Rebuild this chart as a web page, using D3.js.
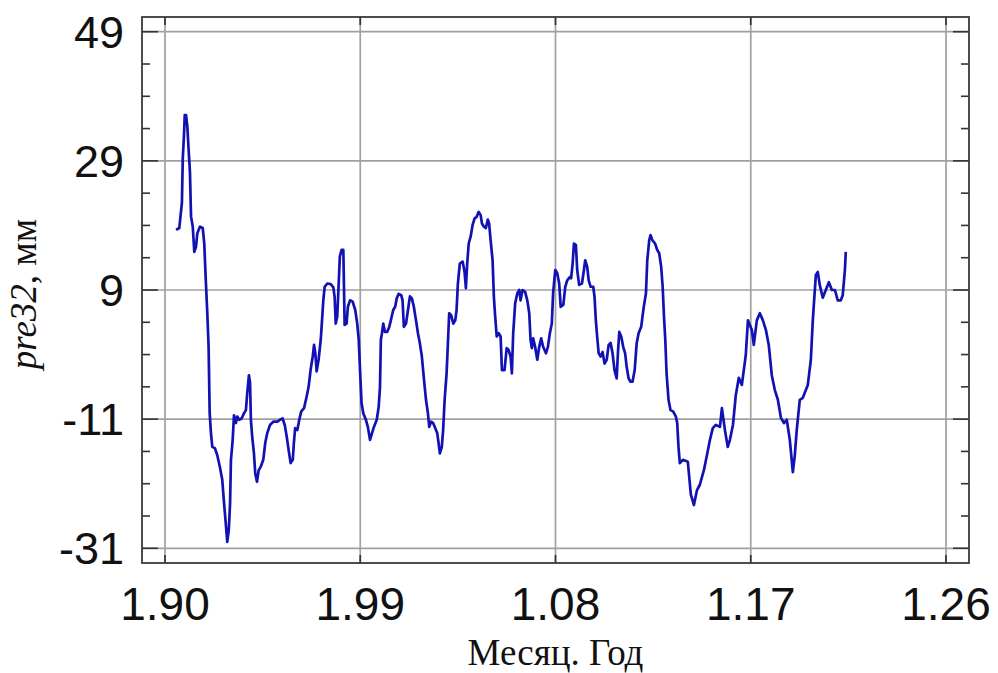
<!DOCTYPE html>
<html>
  <head>
    <meta charset="utf-8">
    <title>pre32</title>
    <script src="https://cdn.jsdelivr.net/npm/d3@7"></script>
    <style>
body { margin: 0; background: #fff; }
.tickTxt { font-family: 'Liberation Sans', Arial, sans-serif; fill: #111; }
.axTitle { font-family: 'Liberation Serif', 'Times New Roman', serif; fill: #111; }
    </style>
  </head>
  <body>
    <script>
// series (year, mm)
var years = [1990.51,1990.66,1990.72,1990.78,1990.82,1990.88,1990.91,1990.97,1991.03,1991.09,1991.15,1991.20,1991.28,1991.35,1991.43,1991.49,1991.61,1991.74,1991.81,1991.88,1991.95,1992.01,1992.06,1992.12,1992.18,1992.30,1992.41,1992.53,1992.64,1992.71,1992.80,1992.87,1992.94,1993.00,1993.04,1993.12,1993.18,1993.27,1993.33,1993.42,1993.53,1993.64,1993.73,1993.79,1993.87,1993.92,1993.96,1994.02,1994.10,1994.16,1994.24,1994.32,1994.41,1994.53,1994.62,1994.71,1994.84,1994.99,1995.18,1995.30,1995.42,1995.52,1995.61,1995.70,1995.79,1995.89,1995.94,1996.00,1996.10,1996.19,1996.28,1996.41,1996.53,1996.62,1996.71,1996.81,1996.87,1996.93,1996.99,1997.08,1997.18,1997.24,1997.30,1997.36,1997.48,1997.64,1997.76,1997.82,1997.87,1997.94,1998.00,1998.06,1998.14,1998.22,1998.25,1998.28,1998.37,1998.43,1998.53,1998.65,1998.77,1998.86,1998.93,1998.99,1999.06,1999.14,1999.26,1999.35,1999.45,1999.54,1999.63,1999.76,1999.85,1999.91,1999.95,2000.00,2000.06,2000.14,2000.24,2000.34,2000.43,2000.52,2000.61,2000.68,2000.77,2000.89,2000.95,2001.01,2001.11,2001.20,2001.29,2001.38,2001.47,2001.57,2001.66,2001.75,2001.84,2001.94,2002.03,2002.12,2002.18,2002.27,2002.36,2002.46,2002.55,2002.61,2002.67,2002.76,2002.82,2002.89,2002.98,2003.04,2003.10,2003.19,2003.29,2003.38,2003.44,2003.50,2003.59,2003.72,2003.81,2003.87,2003.93,2004.00,2004.09,2004.18,2004.27,2004.36,2004.46,2004.55,2004.61,2004.70,2004.79,2004.88,2004.94,2005.01,2005.10,2005.16,2005.22,2005.29,2005.38,2005.47,2005.53,2005.65,2005.75,2005.84,2005.93,2005.99,2006.05,2006.14,2006.24,2006.33,2006.39,2006.48,2006.60,2006.70,2006.79,2006.85,2006.91,2006.97,2007.06,2007.16,2007.25,2007.34,2007.43,2007.56,2007.65,2007.74,2007.83,2007.89,2007.99,2008.08,2008.17,2008.24,2008.36,2008.45,2008.54,2008.66,2008.72,2008.79,2008.85,2008.94,2009.00,2009.09,2009.22,2009.31,2009.37,2009.46,2009.53,2009.62,2009.74,2009.80,2009.86,2009.92,2009.99,2010.08,2010.17,2010.26,2010.36,2010.45,2010.54,2010.63,2010.72,2010.82,2010.88,2010.94,2011.03,2011.12,2011.21,2011.28,2011.37,2011.46,2011.55,2011.65,2011.74,2011.83,2011.95,2012.01,2012.07,2012.17,2012.23,2012.32,2012.38,2012.47,2012.59,2012.69,2012.78,2012.87,2012.94,2013.00,2013.06,2013.12,2013.21,2013.30,2013.42,2013.55,2013.61,2013.67,2013.73,2013.87,2014.10,2014.24,2014.38,2014.52,2014.65,2014.84,2014.98,2015.12,2015.25,2015.39,2015.58,2015.67,2015.81,2015.94,2016.04,2016.18,2016.31,2016.45,2016.59,2016.77,2016.87,2017.05,2017.14,2017.28,2017.42,2017.56,2017.70,2017.83,2017.97,2018.11,2018.25,2018.39,2018.53,2018.66,2018.80,2018.94,2019.03,2019.12,2019.26,2019.40,2019.54,2019.63,2019.77,2019.86,2020.00,2020.09,2020.18,2020.32,2020.46,2020.60,2020.74,2020.88,2021.01,2021.15,2021.24,2021.34,2021.38];
var values = [18.3,18.6,20.6,22.5,29.4,33.3,36.1,36.1,34.3,30.7,27.3,20.4,18.8,14.9,15.7,17.8,18.8,18.6,16.2,10.5,5.4,0.2,-10.1,-13.2,-15.3,-15.5,-16.6,-18.4,-20.4,-23.5,-27.1,-30.0,-28.2,-24.0,-17.3,-14.2,-10.4,-11.6,-10.6,-11.1,-10.9,-10.1,-9.6,-7.0,-4.2,-5.4,-11.1,-13.7,-16.3,-19.4,-20.7,-18.9,-18.4,-17.3,-14.7,-13.2,-11.9,-11.4,-11.4,-11.1,-10.9,-11.9,-13.7,-15.8,-17.8,-17.3,-14.7,-12.4,-12.7,-11.1,-9.8,-9.3,-7.5,-6.0,-3.4,-1.3,0.5,-0.8,-3.6,-1.8,1.3,4.4,7.5,9.5,10.0,9.9,9.4,7.9,3.8,4.9,9.5,14.2,15.2,15.2,9.5,3.6,3.8,6.4,7.4,7.2,5.9,3.8,1.3,-3.4,-8.5,-10.1,-11.1,-12.2,-14.2,-13.2,-12.2,-11.1,-9.1,-6.0,1.3,2.3,3.8,2.5,2.5,3.3,4.6,5.9,6.4,7.7,8.4,8.2,7.4,3.3,3.8,5.9,8.0,7.7,6.4,4.3,2.3,0.7,-1.3,-4.9,-8.0,-10.1,-12.2,-11.4,-11.6,-12.4,-13.2,-14.7,-16.3,-15.3,-12.7,-8.0,-3.9,0.7,5.4,5.1,3.8,4.3,5.9,10.0,13.1,13.4,11.8,9.3,13.1,16.2,17.3,19.1,20.1,20.3,21.1,20.6,19.3,18.8,18.6,19.9,19.3,16.7,13.6,7.9,4.9,1.8,2.3,1.8,-3.4,-3.4,0.0,-0.3,-1.3,-3.9,2.3,6.9,8.5,9.0,7.4,9.0,8.7,7.4,5.4,1.3,0.0,1.5,0.2,-1.8,0.2,1.5,0.2,-0.8,0.2,2.3,3.8,8.5,12.1,11.6,10.0,6.4,6.7,9.5,10.5,11.0,10.8,13.1,16.2,16.0,12.1,9.8,10.0,12.1,13.6,12.6,10.5,9.5,9.5,7.9,4.3,1.8,-0.8,-1.3,-0.6,-2.4,-1.8,0.5,0.8,-0.8,-3.4,-4.7,-0.6,2.5,1.8,0.2,-0.8,-2.9,-4.7,-5.2,-5.2,-3.4,0.7,2.3,3.3,4.9,6.4,8.5,13.6,16.7,17.5,16.7,16.2,15.2,14.7,12.6,9.5,4.9,1.3,-3.9,-8.0,-9.6,-9.8,-10.6,-11.6,-15.3,-17.8,-17.3,-17.6,-22.7,-24.3,-22.0,-21.2,-18.9,-16.6,-14.2,-12.4,-11.9,-12.2,-9.3,-12.7,-15.3,-14.2,-11.9,-7.3,-4.6,-5.7,-1.1,4.3,2.8,0.5,4.3,5.4,4.3,2.8,0.5,-4.2,-6.5,-8.0,-10.8,-11.6,-11.1,-14.2,-19.2,-16.6,-12.7,-8.0,-7.7,-6.5,-5.7,-1.8,4.3,11.3,11.8,9.8,7.8,9.0,10.2,9.0,9.0,7.4,7.4,8.2,12.1,14.9];

var xTickYears = [1990, 1999, 2008, 2017, 2026];
var xTickLabels = ["1.90", "1.99", "1.08", "1.17", "1.26"];
var yTickValues = [49, 29, 9, -11, -31];
var yTickLabels = ["49", "29", "9", "-11", "-31"];
var yMinorValues = d3.range(-31, 50, 5);

var w = 998, h = 673;
var pLeft = 142, pRight = 969, pTop = 17, pBottom = 563;

var svg = d3.select("body").append("svg")
	.attr("width", w)
	.attr("height", h);

var x = d3.scaleLinear().domain([1988.94, 2027.06]).range([pLeft, pRight]);
var y = d3.scaleLinear().domain([-33.28, 51.28]).range([pBottom, pTop]);

// grid
svg.selectAll(".vgrid").data(xTickYears).enter().append("line")
	.attr("x1", function(d){ return x(d); })
	.attr("x2", function(d){ return x(d); })
	.attr("y1", pTop).attr("y2", pBottom)
	.attr("stroke", "#a0a0a0").attr("stroke-width", 1.7);
svg.selectAll(".hgrid").data(yTickValues).enter().append("line")
	.attr("x1", pLeft).attr("x2", pRight)
	.attr("y1", function(d){ return y(d); })
	.attr("y2", function(d){ return y(d); })
	.attr("stroke", "#a0a0a0").attr("stroke-width", 1.7);

// y ticks, both sides, inward
yMinorValues.forEach(function(v){
	var len = (yTickValues.indexOf(v) >= 0) ? 16 : 8;
	svg.append("line").attr("x1", pLeft).attr("x2", pLeft + len)
		.attr("y1", y(v)).attr("y2", y(v))
		.attr("stroke", "#333").attr("stroke-width", 1.6);
	svg.append("line").attr("x1", pRight - len).attr("x2", pRight)
		.attr("y1", y(v)).attr("y2", y(v))
		.attr("stroke", "#333").attr("stroke-width", 1.6);
});
// x ticks top and bottom
xTickYears.forEach(function(v){
	svg.append("line").attr("x1", x(v)).attr("x2", x(v))
		.attr("y1", pTop).attr("y2", pTop + 8)
		.attr("stroke", "#333").attr("stroke-width", 1.7);
	svg.append("line").attr("x1", x(v)).attr("x2", x(v))
		.attr("y1", pBottom - 8).attr("y2", pBottom)
		.attr("stroke", "#333").attr("stroke-width", 1.7);
});

// frame
svg.append("rect")
	.attr("x", pLeft).attr("y", pTop)
	.attr("width", pRight - pLeft).attr("height", pBottom - pTop)
	.attr("fill", "none").attr("stroke", "#3a3a3a").attr("stroke-width", 1.8);

// the line
var line = d3.line()
	.x(function(d){ return x(d[0]); })
	.y(function(d){ return y(d[1]); });

svg.append("path")
	.datum(d3.zip(years, values))
	.attr("d", line)
	.attr("fill", "none")
	.attr("stroke", "#1212b4")
	.attr("stroke-width", 2.7)
	.attr("stroke-linejoin", "round");

// tick labels
svg.selectAll(".ylab").data(yTickValues).enter().append("text")
	.attr("class", "tickTxt")
	.attr("x", 124)
	.attr("y", function(d){ return y(d) + 16; })
	.attr("text-anchor", "end")
	.attr("font-size", "45px")
	.text(function(d, i){ return yTickLabels[i]; });

svg.selectAll(".xlab").data(xTickYears).enter().append("text")
	.attr("class", "tickTxt")
	.attr("x", function(d){ return x(d); })
	.attr("y", 620)
	.attr("text-anchor", "middle")
	.attr("font-size", "46px")
	.text(function(d, i){ return xTickLabels[i]; });

// axis titles
svg.append("text")
	.attr("class", "axTitle")
	.attr("x", (pLeft + pRight) / 2)
	.attr("y", 665)
	.attr("text-anchor", "middle")
	.attr("font-size", "37px")
	.text("Месяц. Год");

var yt = svg.append("text")
	.attr("class", "axTitle")
	.attr("transform", "translate(36," + ((pTop + pBottom) / 2 + 4) + ") rotate(-90)")
	.attr("text-anchor", "middle")
	.attr("font-size", "37px");
yt.append("tspan").attr("font-style", "italic").text("pre32");
yt.append("tspan").text(", мм");
    </script>
  </body>
</html>
